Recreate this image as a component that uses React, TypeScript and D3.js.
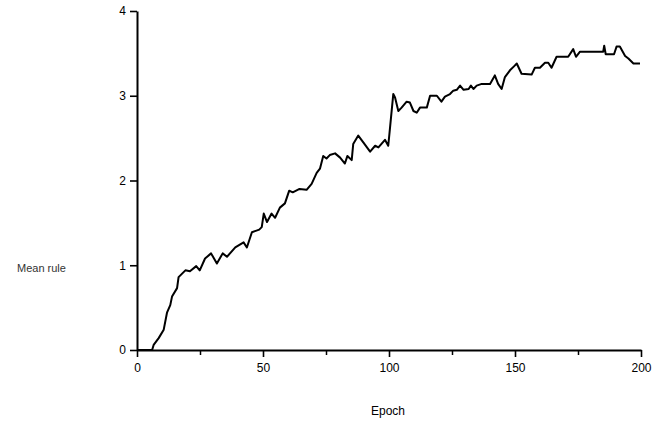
import React, { useEffect, useRef } from 'react';
import * as d3 from 'd3';

// values (epoch, mean rule)
const epochs = [
  0, 6, 6.6, 8.6, 10.6, 11.9, 13.2, 13.9, 15.9, 16.5, 19.2, 21, 23.5, 24.9, 27, 29.4, 31.7, 34, 35.7, 39,
  42.3, 43.6, 45.6, 48.5, 49.5, 50.3, 51.6, 53.4, 54.8, 56.7, 58.7, 60.4, 61.8, 64.5, 67.3, 69.3, 71.3,
  72.6, 73.9, 75.2, 76.5, 78.6, 80.6, 82.5, 83.5, 85.2, 85.8, 87.8, 89.8, 92.5, 94.5, 95.8, 98.4, 99.7,
  100.4, 101.7, 102.4, 103.7, 105, 107, 108.3, 109.7, 111, 112.3, 115, 116.3, 119, 120.8, 122.2, 124.2,
  125.5, 126.9, 128.2, 129.6, 131.6, 132.5, 133.5, 134.8, 136.8, 140.1, 142, 143.3, 144.7, 146, 148,
  149.7, 150.7, 152.6, 156.6, 157.9, 159.9, 161.9, 163.2, 164.5, 166.5, 171.1, 173.1, 174.2, 175.8, 185,
  185.4, 186, 189.3, 190.3, 191.6, 193.7, 195, 197, 199.6,
];
const meanRule = [
  0, 0, 0.06, 0.14, 0.24, 0.44, 0.53, 0.63, 0.73, 0.86, 0.94, 0.93, 0.99, 0.94, 1.08, 1.14, 1.02, 1.14, 1.1, 1.21,
  1.27, 1.21, 1.39, 1.42, 1.45, 1.61, 1.51, 1.61, 1.56, 1.68, 1.73, 1.88, 1.86, 1.9, 1.89, 1.96, 2.09,
  2.14, 2.29, 2.26, 2.3, 2.32, 2.27, 2.2, 2.29, 2.24, 2.43, 2.53, 2.45, 2.34, 2.41, 2.39, 2.48, 2.41,
  2.62, 3.02, 2.98, 2.82, 2.86, 2.93, 2.92, 2.82, 2.8, 2.86, 2.86, 3.0, 3.0, 2.93, 2.99, 3.02,
  3.06, 3.07, 3.12, 3.07, 3.08, 3.12, 3.08, 3.12, 3.14, 3.14, 3.24, 3.14, 3.08, 3.22, 3.3,
  3.35, 3.38, 3.26, 3.25, 3.33, 3.33, 3.39, 3.39, 3.33, 3.46, 3.46, 3.55, 3.46, 3.52, 3.52,
  3.59, 3.49, 3.49, 3.58, 3.58, 3.47, 3.44, 3.38, 3.38,
];
const xTicks = [0, 50, 100, 150, 200];
const xMinorTicks = [25, 75, 125, 175];
const yTicks = [0, 1, 2, 3, 4];

const FONT = '"Liberation Sans", Arial, sans-serif';

export default function App() {
  const ref = useRef<SVGSVGElement | null>(null);

  useEffect(() => {
    const svg = d3.select(ref.current);
    svg.selectAll('*').remove();

    const x = d3.scaleLinear().domain([0, 200]).range([137, 641]);
    const y = d3.scaleLinear().domain([0, 4]).range([350, 11]);

    // minor x ticks
    const minorAxis = d3.axisBottom(x).tickValues(xMinorTicks).tickSize(5).tickFormat(() => '');
    const minorG = svg.append('g').attr('transform', `translate(0,${y(0)})`).call(minorAxis);
    minorG.select('.domain').remove();
    minorG.selectAll('line').attr('stroke', '#000').attr('stroke-width', 1.5);

    // x axis
    const axisX = d3
      .axisBottom(x)
      .tickValues(xTicks)
      .tickFormat(d3.format('d'))
      .tickSize(7)
      .tickSizeOuter(0)
      .tickPadding(6);
    const axisXG = svg.append('g').attr('transform', `translate(0,${y(0)})`).call(axisX);
    axisXG.select('.domain').attr('stroke', '#000').attr('stroke-width', 2);
    axisXG.selectAll('line').attr('stroke', '#000').attr('stroke-width', 1.6);
    axisXG.selectAll('text').attr('font-family', FONT).attr('font-size', 12).attr('fill', '#000');

    // y axis
    const axisY = d3
      .axisLeft(y)
      .tickValues(yTicks)
      .tickFormat(d3.format('d'))
      .tickSize(7)
      .tickSizeOuter(0)
      .tickPadding(4);
    const axisYG = svg.append('g').attr('transform', `translate(${x(0)},0)`).call(axisY);
    axisYG.select('.domain').attr('stroke', '#000').attr('stroke-width', 2);
    axisYG.selectAll('line').attr('stroke', '#000').attr('stroke-width', 1.6);
    axisYG.selectAll('text').attr('font-family', FONT).attr('font-size', 12).attr('fill', '#000');

    // line
    const data = epochs.map((e, i) => [e, meanRule[i]] as [number, number]);
    const line = d3
      .line<[number, number]>()
      .x((d) => x(d[0]))
      .y((d) => y(d[1]));
    svg
      .append('path')
      .datum(data)
      .attr('d', line)
      .attr('fill', 'none')
      .attr('stroke', '#000')
      .attr('stroke-width', 2)
      .attr('stroke-linejoin', 'round');

    // axis titles
    svg
      .append('text')
      .attr('x', 388)
      .attr('y', 415)
      .attr('text-anchor', 'middle')
      .attr('font-family', FONT)
      .attr('font-size', 12)
      .text('Epoch');
    svg
      .append('text')
      .attr('x', 17)
      .attr('y', 272)
      .attr('font-family', FONT)
      .attr('font-size', 11)
      .attr('fill', '#333')
      .text('Mean rule');
  }, []);

  return (
    <svg
      ref={ref}
      width={653}
      height={423}
      style={{ position: 'absolute', left: 0, top: 0, background: '#fff' }}
    />
  );
}
